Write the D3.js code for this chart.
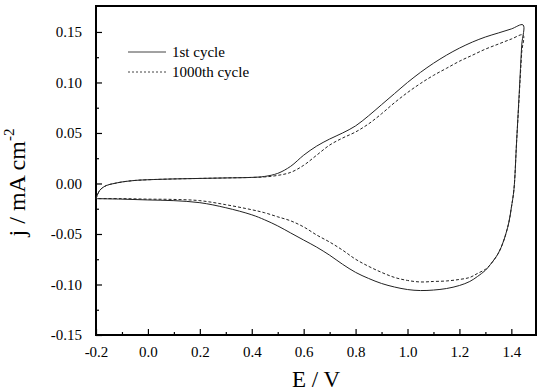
<!DOCTYPE html>
<html>
<head>
<meta charset="utf-8">
<script src="https://cdn.jsdelivr.net/npm/d3@7"></script>
<style>
  body { margin: 0; background: #fff; }
</style>
</head>
<body>
<figure id="cv" style="margin:0"></figure>
<script>
// potential sweep: anodic -0.2 -> 1.445 V, then cathodic back to -0.2 V
var potential = [
  -0.2, -0.185, -0.16, -0.13, -0.1, -0.05, 0.0, 0.1, 0.2, 0.3, 0.4, 0.45, 0.5, 0.55, 0.6, 0.65,
  0.7, 0.75, 0.8, 0.85, 0.9, 0.95, 1.0, 1.05, 1.1, 1.15, 1.2, 1.25, 1.3, 1.35, 1.4, 1.445,
  1.44, 1.43, 1.42, 1.41, 1.4, 1.39, 1.37, 1.35, 1.32, 1.3, 1.27, 1.24, 1.2, 1.15, 1.1, 1.05,
  1.0, 0.95, 0.9, 0.85, 0.8, 0.75, 0.7, 0.65, 0.6, 0.55, 0.5, 0.45, 0.4, 0.3, 0.2, 0.1, 0.0, -0.1, -0.2
];
var firstCycle = [
  -0.015, -0.0066, -0.002, 0.0, 0.0015, 0.003, 0.0037, 0.0045, 0.005, 0.0055, 0.006, 0.007, 0.010, 0.017, 0.028, 0.037,
  0.044, 0.050, 0.057, 0.067, 0.078, 0.089, 0.100, 0.110, 0.119, 0.127, 0.134, 0.140, 0.145, 0.149, 0.153, 0.157,
  0.137, 0.088, 0.040, -0.006, -0.024, -0.039, -0.057, -0.069, -0.080, -0.086, -0.092, -0.097, -0.101, -0.104, -0.1055, -0.106,
  -0.105, -0.1025, -0.099, -0.094, -0.088, -0.080, -0.071, -0.063, -0.056, -0.049, -0.042, -0.036, -0.031, -0.024, -0.019, -0.017, -0.0163, -0.0155, -0.015
];
var cycle1000 = [
  -0.015, -0.0066, -0.002, 0.0, 0.0015, 0.003, 0.0037, 0.0045, 0.005, 0.0055, 0.006, 0.0065, 0.008, 0.011, 0.018, 0.028,
  0.038, 0.045, 0.051, 0.059, 0.069, 0.080, 0.090, 0.099, 0.107, 0.114, 0.121, 0.127, 0.133, 0.138, 0.143, 0.147,
  0.130, 0.085, 0.040, -0.006, -0.024, -0.039, -0.057, -0.069, -0.080, -0.085, -0.089, -0.093, -0.095, -0.0965, -0.097, -0.0975,
  -0.096, -0.093, -0.088, -0.082, -0.075, -0.066, -0.058, -0.051, -0.043, -0.037, -0.033, -0.029, -0.026, -0.021, -0.017, -0.0158, -0.0155, -0.015, -0.015
];
var xTicks = [-0.2, 0.0, 0.2, 0.4, 0.6, 0.8, 1.0, 1.2, 1.4];
var yTicks = [-0.15, -0.10, -0.05, 0.00, 0.05, 0.10, 0.15];
var seriesNames = ["1st cycle", "1000th cycle"];

var serif = '"Liberation Serif", "Times New Roman", serif';

var margin = {top: 6, right: 8, bottom: 57, left: 96};
var width = 544 - margin.left - margin.right;
var height = 392 - margin.top - margin.bottom;

var svg = d3.select('figure#cv').append('svg')
  .attr('width', 544)
  .attr('height', 392)
  .style('font-family', serif);

var chart = svg.append('g')
  .attr('transform', 'translate(' + margin.left + ',' + margin.top + ')');

var x = d3.scaleLinear().domain([-0.2, 1.495]).range([0, width]);
var y = d3.scaleLinear().domain([-0.15, 0.1757]).range([height, 0]);

// minor ticks halfway between majors
var xMinor = xTicks.map(function(d) { return d + 0.1; }).filter(function(d) { return d < 1.49; });
var yMinor = yTicks.map(function(d) { return d + 0.025; }).filter(function(d) { return d < 0.17; });

function styleLabels(g) {
  g.attr('font-family', serif);
  g.select('.domain').remove();
  g.selectAll('text')
    .style('font-family', serif)
    .style('font-size', '15px')
    .attr('fill', '#000');
}

chart.append('g')
  .attr('transform', 'translate(0,' + height + ')')
  .call(d3.axisBottom(x).tickValues(xTicks).tickSize(-6).tickPadding(11)
    .tickFormat(function(d) { return d.toFixed(1); }))
  .call(styleLabels);

chart.append('g')
  .attr('transform', 'translate(0,' + height + ')')
  .call(d3.axisBottom(x).tickValues(xMinor).tickSize(-3).tickFormat(''))
  .call(function(g) { g.select('.domain').remove(); });

chart.append('g')
  .call(d3.axisLeft(y).tickValues(yTicks).tickSize(-6).tickPadding(14)
    .tickFormat(function(d) { return d.toFixed(2); }))
  .call(styleLabels);

chart.append('g')
  .call(d3.axisLeft(y).tickValues(yMinor).tickSize(-3).tickFormat(''))
  .call(function(g) { g.select('.domain').remove(); });

chart.selectAll('.tick line').attr('stroke', '#000').attr('stroke-width', 1.2);

// frame
chart.append('rect')
  .attr('width', width)
  .attr('height', height)
  .attr('fill', 'none')
  .attr('stroke', '#000')
  .attr('stroke-width', 2);

var line = d3.line()
  .x(function(d) { return x(d[0]); })
  .y(function(d) { return y(d[1]); })
  .curve(d3.curveCatmullRom.alpha(0.5));

chart.append('path')
  .datum(d3.zip(potential, firstCycle))
  .attr('d', line)
  .attr('fill', 'none')
  .attr('stroke', '#222')
  .attr('stroke-width', 1);

chart.append('path')
  .datum(d3.zip(potential, cycle1000))
  .attr('d', line)
  .attr('fill', 'none')
  .attr('stroke', '#222')
  .attr('stroke-width', 1)
  .attr('stroke-dasharray', '3,2');

// legend
var legend = chart.append('g').attr('transform', 'translate(32,46)');
legend.selectAll('line')
  .data(seriesNames)
  .enter().append('line')
    .attr('x1', 0).attr('x2', 38)
    .attr('y1', function(d, i) { return i * 20; })
    .attr('y2', function(d, i) { return i * 20; })
    .attr('stroke', '#444')
    .attr('stroke-width', 1)
    .attr('stroke-dasharray', function(d, i) { return i ? '2,2' : null; });
legend.selectAll('text')
  .data(seriesNames)
  .enter().append('text')
    .attr('x', 44)
    .attr('y', function(d, i) { return i * 20 + 5; })
    .style('font-size', '15px')
    .text(function(d) { return d; });

// axis titles
svg.append('text')
  .attr('x', margin.left + width / 2)
  .attr('y', 387)
  .attr('text-anchor', 'middle')
  .style('font-size', '23px')
  .text('E / V');

var yTitle = svg.append('text')
  .attr('transform', 'translate(25,' + (margin.top + height / 2 + 12) + ') rotate(-90)')
  .attr('text-anchor', 'middle')
  .style('font-size', '24px');
yTitle.append('tspan').text('j / mA cm');
yTitle.append('tspan').attr('dy', -11).style('font-size', '15px').text('-2');
</script>
</body>
</html>
